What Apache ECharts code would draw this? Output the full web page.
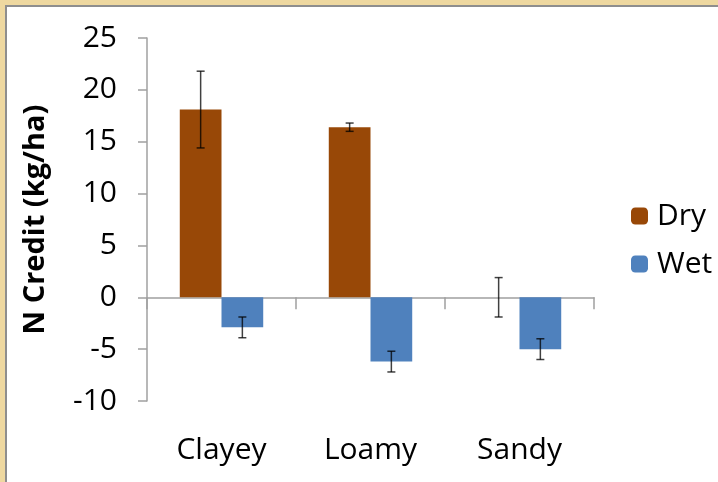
<!DOCTYPE html>
<html>
<head>
<meta charset="utf-8">
<script src="https://cdn.jsdelivr.net/npm/echarts@6/dist/echarts.min.js"></script>
<style>
html,body{margin:0;padding:0;background:#fff;}
#chart{width:718px;height:482px;}
</style>
</head>
<body>
<div id="chart"></div>
<script>
const categories = ['Clayey', 'Loamy', 'Sandy'];
const dryValues = [18.1, 16.4, 0];
const dryErrors = [3.7, 0.4, 1.9];
const wetValues = [-2.9, -6.2, -5.0];
const wetErrors = [1.0, 1.0, 1.0];
const yTicks = { min: -10, max: 25, interval: 5 };
const seriesNames = ['Dry', 'Wet'];

const FONT = 'Open Sans';
const GAP = 0.44;

const chart = echarts.init(document.getElementById('chart'));

function errorSeries(values, errors, side) {
  return {
    type: 'custom',
    xAxisIndex: 0,
    yAxisIndex: 0,
    z: 10,
    silent: true,
    data: values.map((v, i) => [i, v, errors[i]]),
    renderItem: function (params, api) {
      const i = api.value(0), v = api.value(1), e = api.value(2);
      const band = api.size([1, 0])[0];
      const bw = band * (1 - GAP) / 2;
      const c = api.coord([i, v]);
      const x = c[0] + side * bw / 2;
      const top = api.coord([i, v + e])[1];
      const bot = api.coord([i, v - e])[1];
      const cap = 4;
      const style = { stroke: 'rgba(0,0,0,0.75)', lineWidth: 1.5 };
      return {
        type: 'group',
        children: [
          { type: 'line', shape: { x1: x, y1: top, x2: x, y2: bot }, style },
          { type: 'line', shape: { x1: x - cap, y1: top, x2: x + cap, y2: top }, style },
          { type: 'line', shape: { x1: x - cap, y1: bot, x2: x + cap, y2: bot }, style }
        ]
      };
    }
  };
}

chart.setOption({
  animation: false,
  backgroundColor: '#ffffff',
  graphic: [
    { type: 'rect', left: 0, top: 0, shape: { width: 718, height: 5 }, style: { fill: '#eed8a0' }, z: 100 },
    { type: 'rect', left: 0, top: 0, shape: { width: 5, height: 482 }, style: { fill: '#eed8a0' }, z: 100 },
    { type: 'rect', left: 5, top: 5, shape: { width: 713, height: 2 }, style: { fill: '#8e8e8e' }, z: 100 },
    { type: 'rect', left: 5, top: 5, shape: { width: 2, height: 477 }, style: { fill: '#8e8e8e' }, z: 100 }
  ],
  grid: { left: 147, right: 124, top: 38, bottom: 81, containLabel: false },
  legend: {
    orient: 'vertical',
    left: 626,
    top: 196,
    itemWidth: 17,
    itemHeight: 17,
    itemGap: 18,
    textStyle: { fontFamily: FONT, fontSize: 30, color: '#000', padding: [0, 0, 0, 4] },
    data: seriesNames
  },
  xAxis: [
    {
      type: 'category',
      data: categories,
      axisLine: { onZero: true, lineStyle: { color: '#a0a0a0', width: 1.5 } },
      axisTick: { show: true, length: 12, lineStyle: { color: '#a0a0a0', width: 1.5 } },
      axisLabel: { show: false }
    },
    {
      type: 'category',
      data: categories,
      position: 'bottom',
      axisLine: { show: false, onZero: false },
      axisTick: { show: false },
      axisLabel: { show: true, margin: 34, fontFamily: FONT, fontSize: 30, color: '#000' }
    }
  ],
  yAxis: {
    type: 'value',
    min: yTicks.min,
    max: yTicks.max,
    interval: yTicks.interval,
    name: 'N Credit (kg/ha)',
    nameLocation: 'middle',
    nameGap: 97,
    nameRotate: 90,
    nameTextStyle: { fontFamily: FONT, fontSize: 29, fontWeight: 'bold', color: '#000' },
    axisLine: { show: true, lineStyle: { color: '#a0a0a0', width: 1.5 } },
    axisTick: { show: true, length: 9, lineStyle: { color: '#a0a0a0', width: 1.5 } },
    axisLabel: { margin: 30, fontFamily: FONT, fontSize: 30, color: '#000' },
    splitLine: { show: false }
  },
  series: [
    {
      name: 'Dry', type: 'bar', data: dryValues, barGap: '0%', barCategoryGap: (GAP * 100) + '%',
      itemStyle: { color: '#984807' }
    },
    {
      name: 'Wet', type: 'bar', data: wetValues, barGap: '0%', barCategoryGap: (GAP * 100) + '%',
      itemStyle: { color: '#4f81bd' }
    },
    errorSeries(dryValues, dryErrors, -1),
    errorSeries(wetValues, wetErrors, 1)
  ]
});
</script>
</body>
</html>
